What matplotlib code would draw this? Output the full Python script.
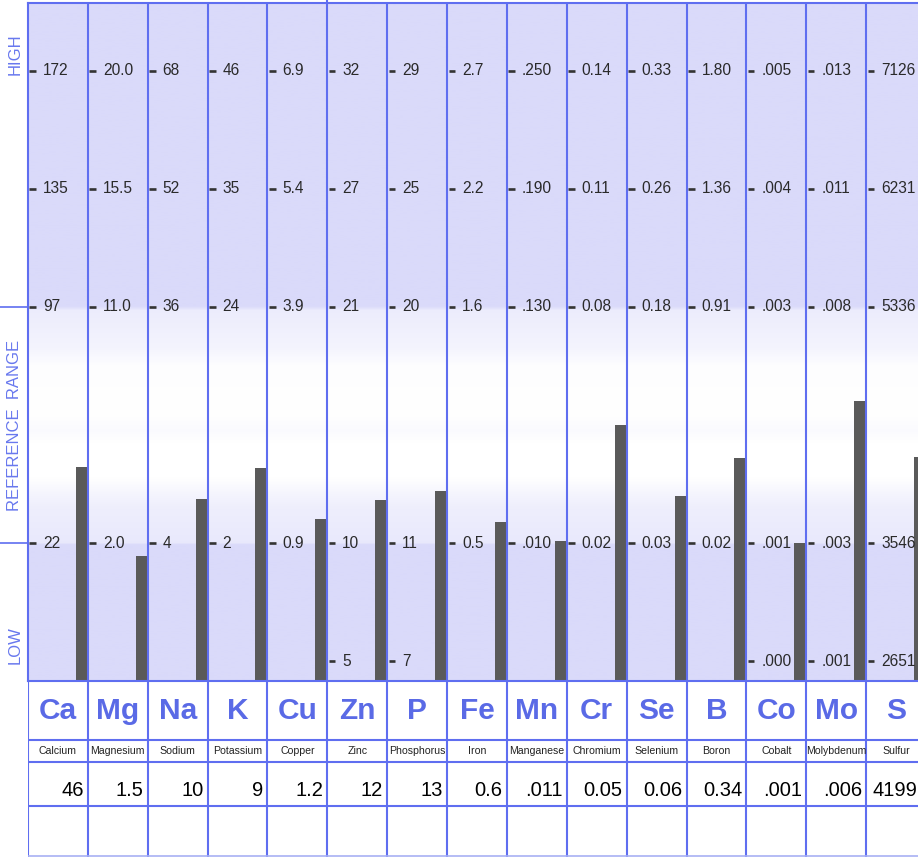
import numpy as np
import matplotlib.pyplot as plt
from matplotlib.colors import to_rgb

plt.rcParams['font.family'] = ['Liberation Sans', 'DejaVu Sans']

symbols = ['Ca', 'Mg', 'Na', 'K', 'Cu', 'Zn', 'P', 'Fe', 'Mn', 'Cr', 'Se', 'B', 'Co', 'Mo', 'S']
names = ['Calcium', 'Magnesium', 'Sodium', 'Potassium', 'Copper', 'Zinc', 'Phosphorus', 'Iron',
         'Manganese', 'Chromium', 'Selenium', 'Boron', 'Cobalt', 'Molybdenum', 'Sulfur']
results = [46, 1.5, 10, 9, 1.2, 12, 13, 0.6, 0.011, 0.05, 0.06, 0.34, 0.001, 0.006, 4199]
result_labels = ['46', '1.5', '10', '9', '1.2', '12', '13', '0.6', '.011', '0.05', '0.06', '0.34',
                 '.001', '.006', '4199']

# tick labels per column, top to bottom
high_top = ['172', '20.0', '68', '46', '6.9', '32', '29', '2.7', '.250', '0.14', '0.33', '1.80', '.005', '.013', '7126']
high_mid = ['135', '15.5', '52', '35', '5.4', '27', '25', '2.2', '.190', '0.11', '0.26', '1.36', '.004', '.011', '6231']
ref_high = ['97', '11.0', '36', '24', '3.9', '21', '20', '1.6', '.130', '0.08', '0.18', '0.91', '.003', '.008', '5336']
ref_low = ['22', '2.0', '4', '2', '0.9', '10', '11', '0.5', '.010', '0.02', '0.03', '0.02', '.001', '.003', '3546']
low_tick = ['', '', '', '', '', '5', '7', '', '', '', '', '', '.000', '.001', '2651']

LINE = '#5f6ef0'
SYM = '#5a6ae6'
BAR = '#5a5a5a'
LAV = np.array(to_rgb('#dadafa'))

W, H = 918, 857
fig = plt.figure(figsize=(W / 100, H / 100), dpi=100)

# level units: 0 = lowest tick, 1 = ref low, 3 = ref high, 5 = high top
u_bot, u_top = -20 / 118, 658 / 118
ax = fig.add_axes([28 / W, 176 / H, 898 / W, 678 / H])
ax.set_xlim(0, 15)
ax.set_ylim(u_bot, u_top)
ax.set_xticks([])
ax.set_yticks([])
for s in ['right', 'bottom']:
    ax.spines[s].set_visible(False)
for s in ['left', 'top']:
    ax.spines[s].set_color(LINE)
    ax.spines[s].set_linewidth(1.5)

# background band gradient
uu = np.linspace(u_bot, u_top, 600)
ks = [u_bot, 0.98, 1.0, 1.3, 1.45, 1.55, 1.85, 1.95, 2.1, 2.5, 2.65, 2.97, 3.0, u_top]
ka = [1.0, 1.0, 0.6, 0.45, 0.2, 0.0, 0.0, 0.12, 0.0, 0.05, 0.3, 0.5, 1.0, 1.0]
a = np.interp(uu, ks, ka)[:, None]
img = (1 - a) * np.ones(3) + a * LAV
ax.imshow(img[:, None, :], extent=[0, 15, u_bot, u_top], origin='lower', aspect='auto', zorder=0)


def to_level(v, i):
    lo = float(ref_low[i])
    hi = float(high_top[i])
    return 1 + (v - lo) / (hi - lo) * 4


x = np.arange(len(symbols))
levels = [to_level(v, i) for i, v in enumerate(results)]
ax.bar(x + 0.895, np.array(levels) - u_bot, bottom=u_bot, width=0.19, color=BAR, zorder=2)

for i in range(len(symbols)):
    ticks = [(5, high_top[i]), (4, high_mid[i]), (3, ref_high[i]), (1, ref_low[i]), (0, low_tick[i])]
    for lv, lab in ticks:
        if not lab:
            continue
        ax.plot([i + 0.025, i + 0.135], [lv, lv], color='#333333', lw=1.9, solid_capstyle='butt', zorder=3)
        ax.text(i + 0.25, lv, lab, ha='left', va='center', fontsize=11.2, color='#2a2a2a', zorder=3)

ax.vlines(np.arange(1, 16), u_bot, u_top, color=LINE, lw=1.5, zorder=4)
ax.plot([0, 15], [u_bot, u_bot], color=LINE, lw=1.5, zorder=4, clip_on=False)
ax.plot([5, 5], [u_top, u_top + 0.04], color=LINE, lw=1.5, clip_on=False)

# left side zone labels
for lv in [3, 1]:
    ax.plot([-0.47, 0], [lv, lv], color=LINE, lw=1.2, clip_on=False)
ZONE = '#6878ee'
ax.text(-0.22, 5.14, 'HIGH', rotation=90, ha='center', va='center', fontsize=12, color=ZONE)
ax.text(-0.22, 2.0, 'REFERENCE  RANGE', rotation=90, ha='center', va='center', fontsize=12, color=ZONE)
ax.text(-0.22, 0.135, 'LOW', rotation=90, ha='center', va='center', fontsize=12, color=ZONE)

# table under the chart
tb = fig.add_axes([28 / W, 0, 898 / W, 176 / H])
tb.set_xlim(0, 15)
tb.set_ylim(176, 0)
tb.axis('off')
tb.vlines(np.arange(0, 16), 0, 176, color=LINE, lw=1.5)
tb.hlines([59, 81, 125], 0, 15, color=LINE, lw=1.5)
tb.hlines([175], 0, 15, color='#a8b0f4', lw=1.2)

# keep the last value inside the visible part of the cropped last column
x_edge = (W - 28 - 1) / (898 / 15)
for i in range(len(symbols)):
    tb.text(i + 0.5, 30, symbols[i], ha='center', va='center', fontsize=21.5, fontweight='bold',
            color=SYM)
    tb.text(i + 0.5, 70, names[i], ha='center', va='center', fontsize=7.6, color='#222222')
    tb.text(min(i + 0.93, x_edge), 109, result_labels[i], ha='right', va='center',
            fontsize=14.5, color='black')

fig.savefig('out.png', dpi=100)
